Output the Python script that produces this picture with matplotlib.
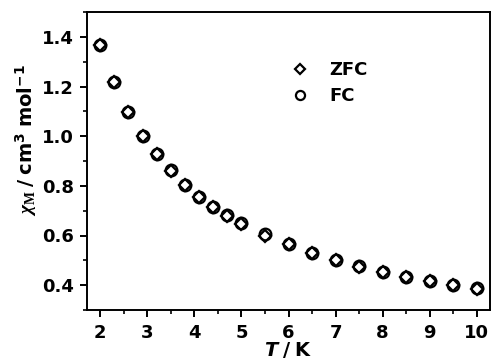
import matplotlib
matplotlib.use("Agg")
import matplotlib.pyplot as plt
from matplotlib.ticker import MultipleLocator

# Temperature (K) and molar susceptibility (cm^3 mol^-1)
temperature = [2.0, 2.3, 2.6, 2.9, 3.2, 3.5, 3.8, 4.1, 4.4, 4.7, 5.0,
               5.5, 6.0, 6.5, 7.0, 7.5, 8.0, 8.5, 9.0, 9.5, 10.0]
chi_zfc = [1.367, 1.217, 1.097, 1.001, 0.927, 0.861, 0.802, 0.755, 0.713,
           0.678, 0.648, 0.600, 0.565, 0.530, 0.500, 0.475, 0.452, 0.432,
           0.415, 0.400, 0.386]
chi_fc = [1.368, 1.218, 1.098, 1.002, 0.927, 0.862, 0.803, 0.757, 0.716,
          0.682, 0.652, 0.605, 0.567, 0.531, 0.501, 0.476, 0.453, 0.433,
          0.416, 0.401, 0.387]

x_ticks = [2, 3, 4, 5, 6, 7, 8, 9, 10]
y_ticks = [0.4, 0.6, 0.8, 1.0, 1.2, 1.4]

plt.rcParams.update({
    "font.family": "DejaVu Sans",
    "font.weight": "bold",
    "mathtext.fontset": "custom",
    "mathtext.rm": "DejaVu Sans:bold",
    "mathtext.bf": "DejaVu Sans:bold",
    "mathtext.it": "Liberation Serif:italic",
    "mathtext.sf": "Liberation Serif",
    "mathtext.cal": "DejaVu Sans:bold:italic",
})

fig = plt.figure(figsize=(4.93, 3.63), dpi=100)
ax = fig.add_axes([87 / 493, 53 / 363, 403 / 493, 298 / 363])

ax.plot(temperature, chi_zfc, linestyle="none", marker="D", markersize=6.6,
        markerfacecolor="white", markeredgecolor="black",
        markeredgewidth=1.6, label="ZFC")
ax.plot(temperature, chi_fc, linestyle="none", marker="o", markersize=8.4,
        markerfacecolor="none", markeredgecolor="black",
        markeredgewidth=1.6, label="FC")

ax.set_xlim(1.72, 10.28)
ax.set_ylim(0.3, 1.5)
ax.set_xticks(x_ticks)
ax.set_xticklabels([str(v) for v in x_ticks])
ax.set_yticks(y_ticks)
ax.set_yticklabels([f"{v:.1f}" for v in y_ticks])
ax.xaxis.set_minor_locator(MultipleLocator(0.5))
ax.yaxis.set_minor_locator(MultipleLocator(0.1))

for side in ["top", "right", "bottom", "left"]:
    ax.spines[side].set_linewidth(1.4)

ax.tick_params(which="major", direction="out", length=5, width=1.4,
               labelsize=13, top=False, right=False)
ax.tick_params(which="minor", direction="out", length=3, width=1.2,
               top=False, right=False)
ax.tick_params(axis="x", which="major", pad=5)
ax.tick_params(axis="y", which="major", pad=4.5)

ax.set_xlabel(r"$\mathcal{T}\mathbf{\ /\ K}$", fontsize=14, labelpad=-1)
ax.set_ylabel(r"$\chi_{\mathsf{M}}\mathbf{\ /\ cm^{3}\ mol^{-1}}$",
              fontsize=14)
ax.yaxis.set_label_coords(-0.118, 0.57)

leg = ax.legend(loc="upper left", bbox_to_anchor=(291 / 493, 1 - 61 / 363),
                bbox_transform=fig.transFigure, frameon=False,
                fontsize=13, markerscale=0.78, handlelength=1.0,
                handletextpad=1.1, borderpad=0, borderaxespad=0,
                labelspacing=0.45)

fig.savefig("out.png", dpi=100)
